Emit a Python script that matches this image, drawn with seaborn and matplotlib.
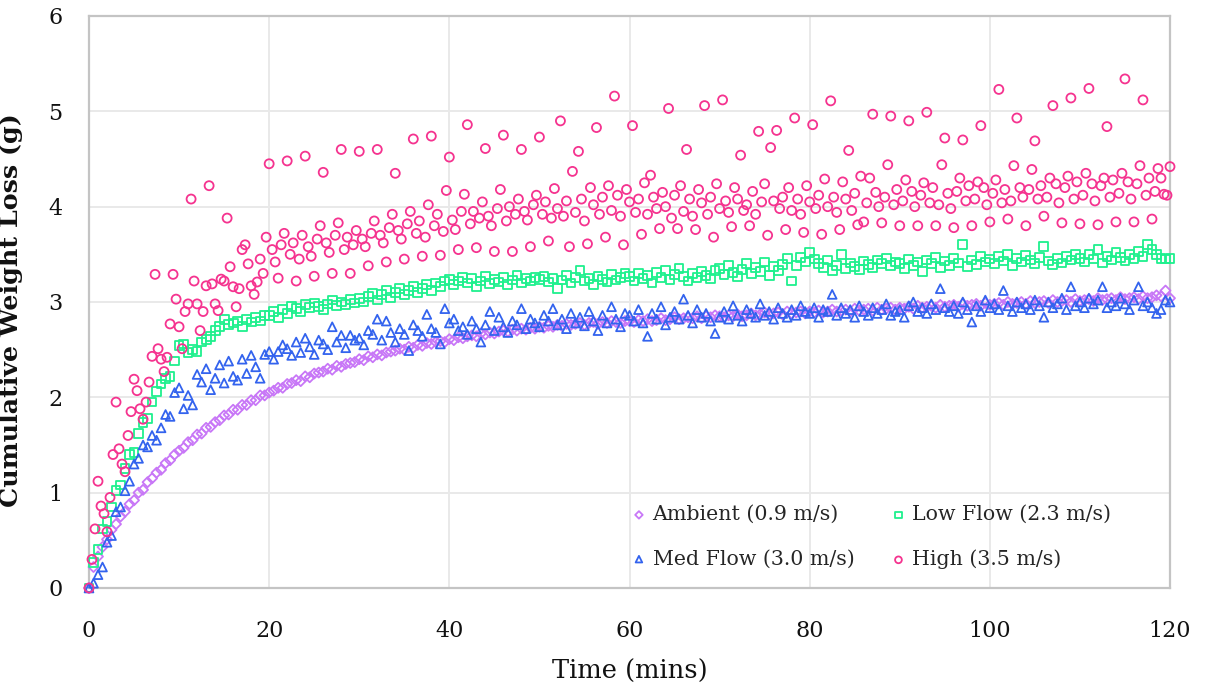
import numpy as np
import pandas as pd
import matplotlib
matplotlib.use("Agg")
import matplotlib.pyplot as plt
import seaborn as sns

# ---------------- data ----------------
series_names = ["Ambient (0.9 m/s)", "Low Flow (2.3 m/s)", "Med Flow (3.0 m/s)", "High (3.5 m/s)"]
x_min, x_max = 0, 120          # minutes (samples are evenly spaced over this span)
x_ticks = [0, 20, 40, 60, 80, 100, 120]
y_ticks = [0, 1, 2, 3, 4, 5, 6]

# Ambient: one reading every 0.5 min
ambient = [
    0.00,0.22,0.33,0.43,0.51,0.61,0.67,0.75,0.80,0.88,0.92,1.00,1.03,1.11,1.15,1.21,1.24,1.31,1.34,1.40,
    1.44,1.47,1.53,1.55,1.61,1.62,1.68,1.69,1.74,1.76,1.81,1.82,1.87,1.87,1.92,1.92,1.97,1.97,2.02,2.02,
    2.05,2.07,2.10,2.10,2.14,2.15,2.18,2.17,2.22,2.21,2.25,2.26,2.27,2.30,2.29,2.33,2.32,2.35,2.36,2.37,
    2.40,2.39,2.43,2.42,2.45,2.44,2.47,2.48,2.49,2.51,2.50,2.53,2.52,2.55,2.54,2.57,2.56,2.58,2.59,2.58,
    2.61,2.60,2.63,2.62,2.64,2.65,2.64,2.67,2.66,2.68,2.67,2.69,2.70,2.69,2.71,2.70,2.72,2.71,2.73,2.72,
    2.74,2.73,2.75,2.74,2.76,2.75,2.77,2.76,2.77,2.78,2.76,2.78,2.79,2.77,2.79,2.78,2.80,2.79,2.78,2.80,
    2.80,2.79,2.81,2.80,2.82,2.80,2.81,2.83,2.81,2.82,2.84,2.82,2.83,2.84,2.83,2.85,2.83,2.85,2.84,2.86,
    2.85,2.84,2.86,2.85,2.87,2.85,2.86,2.88,2.86,2.87,2.89,2.87,2.88,2.89,2.87,2.90,2.88,2.89,2.90,2.88,
    2.90,2.89,2.91,2.89,2.90,2.92,2.90,2.91,2.92,2.90,2.93,2.91,2.92,2.93,2.91,2.94,2.92,2.93,2.94,2.92,
    2.94,2.93,2.95,2.93,2.96,2.94,2.95,2.96,2.94,2.97,2.95,2.96,2.97,2.95,2.98,2.96,2.97,2.98,2.96,2.99,
    2.97,2.98,2.99,2.97,3.00,2.98,2.99,3.00,2.98,3.01,2.99,3.00,3.01,2.99,3.02,3.00,3.01,3.02,3.00,3.03,
    3.01,3.02,3.03,3.01,3.04,3.02,3.03,3.04,3.02,3.05,3.03,3.04,3.05,3.03,3.06,3.04,3.05,3.07,3.06,3.12,
    3.04,
]

# Low Flow: one reading every 0.5 min
low_flow = [
    0.00,0.27,0.40,0.62,0.70,0.85,1.02,1.08,1.25,1.40,1.42,1.62,1.74,1.78,1.95,2.06,2.14,2.20,2.22,2.38,
    2.54,2.56,2.47,2.50,2.48,2.58,2.61,2.64,2.70,2.74,2.82,2.76,2.78,2.80,2.74,2.82,2.79,2.84,2.80,2.86,
    2.86,2.90,2.84,2.92,2.88,2.95,2.93,2.90,2.97,2.94,2.99,2.95,2.92,2.98,3.02,2.96,3.00,2.97,3.03,2.99,
    3.04,3.00,3.06,3.09,3.02,3.08,3.12,3.05,3.10,3.14,3.08,3.12,3.16,3.10,3.14,3.18,3.12,3.20,3.16,3.22,
    3.24,3.18,3.22,3.26,3.20,3.25,3.16,3.22,3.27,3.19,3.24,3.21,3.26,3.18,3.23,3.28,3.20,3.25,3.22,3.26,
    3.24,3.27,3.21,3.25,3.14,3.23,3.28,3.20,3.26,3.33,3.22,3.25,3.18,3.27,3.24,3.21,3.29,3.23,3.26,3.30,
    3.27,3.22,3.30,3.25,3.28,3.20,3.31,3.26,3.33,3.24,3.29,3.35,3.27,3.22,3.30,3.26,3.32,3.28,3.25,3.33,
    3.35,3.29,3.38,3.31,3.27,3.34,3.40,3.30,3.36,3.32,3.42,3.28,3.37,3.33,3.39,3.46,3.22,3.38,3.47,3.42,
    3.52,3.45,3.40,3.36,3.44,3.33,3.38,3.50,3.35,3.41,3.37,3.34,3.43,3.39,3.36,3.44,3.40,3.46,3.38,3.42,
    3.40,3.35,3.45,3.38,3.42,3.32,3.44,3.40,3.47,3.36,3.43,3.38,3.46,3.41,3.60,3.37,3.44,3.39,3.48,3.42,
    3.45,3.40,3.48,3.43,3.50,3.38,3.46,3.42,3.49,3.44,3.40,3.47,3.58,3.43,3.39,3.46,3.41,3.48,3.44,3.50,
    3.46,3.42,3.50,3.45,3.55,3.41,3.48,3.44,3.52,3.47,3.43,3.50,3.46,3.53,3.48,3.60,3.55,3.50,3.46,3.45,
    3.46,
]

# Med Flow: one reading every 0.5 min
med_flow = [
    0.00,0.05,0.14,0.22,0.48,0.55,0.80,0.85,1.02,1.12,1.30,1.36,1.50,1.48,1.60,1.55,1.68,1.82,1.80,2.05,
    2.10,1.88,2.02,1.92,2.24,2.16,2.30,2.08,2.20,2.34,2.15,2.38,2.22,2.18,2.40,2.25,2.44,2.32,2.20,2.45,
    2.48,2.40,2.48,2.55,2.51,2.44,2.58,2.47,2.62,2.53,2.45,2.60,2.56,2.50,2.74,2.58,2.65,2.52,2.65,2.60,
    2.62,2.55,2.70,2.66,2.82,2.60,2.80,2.68,2.58,2.72,2.66,2.49,2.76,2.70,2.64,2.87,2.72,2.68,2.56,2.93,
    2.78,2.82,2.70,2.74,2.66,2.80,2.72,2.58,2.76,2.90,2.70,2.84,2.74,2.68,2.80,2.76,2.93,2.72,2.82,2.78,
    2.74,2.86,2.80,2.93,2.76,2.82,2.72,2.88,2.78,2.84,2.75,2.90,2.80,2.70,2.86,2.78,2.95,2.82,2.74,2.88,
    2.86,2.80,2.92,2.78,2.64,2.88,2.82,2.95,2.76,2.84,2.90,2.82,3.03,2.86,2.78,2.92,2.84,2.88,2.80,2.67,
    2.84,2.90,2.82,2.96,2.86,2.80,2.92,2.88,2.84,2.98,2.86,2.90,2.82,2.94,2.88,2.84,2.92,2.86,2.96,2.90,
    2.88,2.94,2.84,2.92,2.90,3.08,2.86,2.94,2.88,2.92,2.84,2.96,2.90,2.86,2.94,2.88,2.92,2.98,2.86,2.90,
    2.92,2.84,2.96,3.00,2.90,2.94,2.88,2.98,2.92,3.14,2.94,2.90,2.96,2.88,3.00,2.92,2.79,2.96,2.90,3.02,
    2.94,2.98,2.92,3.12,2.96,2.90,3.00,2.94,2.98,2.92,3.02,2.96,2.84,3.00,2.94,2.98,3.04,2.92,3.16,2.96,
    3.00,2.94,3.04,2.98,3.02,3.16,2.94,3.00,2.96,3.04,2.98,2.92,3.02,3.16,2.96,3.00,2.94,2.88,2.92,3.02,
    3.00,
]

# High: one reading every 20 s (1/3 min)
high = [
    0.00,0.30,0.62,1.12,0.86,0.78,0.59,0.95,1.40,1.95,1.46,1.30,1.22,1.60,1.85,2.19,2.07,1.88,1.77,1.95,
    2.16,2.43,3.29,2.51,2.40,2.27,2.42,2.77,3.29,3.03,2.74,2.51,2.90,2.98,4.08,3.22,2.98,2.70,2.90,3.17,
    4.22,3.19,2.98,2.91,3.24,3.22,3.88,3.37,3.16,2.95,3.14,3.55,3.60,3.40,3.17,3.08,3.21,3.45,3.30,3.68,
    4.45,3.55,3.42,3.25,3.60,3.72, 4.48,3.50,3.62,3.22,3.45,3.70, 4.53,3.58,3.48,3.27,3.66,3.80,
    4.36,3.62,3.52,3.30,3.70,3.83, 4.60,3.55,3.68,3.30,3.60,3.75, 4.58,3.66,3.58,3.38,3.72,3.85,
    4.60,3.70,3.62,3.42,3.78,3.92, 4.35,3.75,3.66,3.45,3.82,3.95, 4.71,3.72,3.85,3.48,3.68,4.02,
    4.74,3.80,3.92,3.49,3.74,4.17, 4.52,3.86,3.76,3.55,3.95,4.13, 4.86,3.82,3.95,3.57,3.88,4.05,
    4.61,3.90,3.80,3.53,3.98,4.18, 4.75,3.85,4.00,3.53,3.92,4.08, 4.60,3.95,3.86,3.58,4.02,4.12,
    4.73,3.92,4.05,3.64,3.88,4.19,
    3.98,4.90,3.90,4.06,3.58,4.37, 3.94,4.58,4.08,3.85,3.61,4.20, 4.02,4.83,3.92,4.10,3.68,4.22,
    3.96,5.16,4.12,3.90,3.60,4.18, 4.05,4.85,3.94,4.08,3.71,4.25, 3.92,4.33,4.10,3.98,3.77,4.15,
    4.00,5.03,3.88,4.12,3.77,4.22, 3.95,4.60,4.08,3.90,3.76,4.18, 4.04,5.06,3.92,4.10,3.68,4.24,
    3.98,5.12,4.06,3.94,3.79,4.20, 4.08,4.54,3.96,4.02,3.80,4.16, 3.92,4.79,4.05,4.24,3.70,4.62,
    4.06,4.80,3.98,4.10,3.76,4.20, 3.96,4.93,4.08,3.92,3.73,4.22, 4.05,4.86,3.98,4.12,3.71,4.29,
    4.00,5.11,4.10,3.94,3.76,4.26, 4.08,4.59,3.96,4.14,3.81,4.32,
    3.84,4.04,4.30,4.97,4.15,4.00, 3.83,4.10,4.44,4.95,4.02,4.18, 3.80,4.06,4.28,4.90,4.16,4.00,
    3.80,4.12,4.25,4.99,4.04,4.20, 3.80,4.02,4.44,4.72,4.14,3.98, 3.78,4.16,4.30,4.70,4.06,4.22,
    3.80,4.08,4.26,4.85,4.20,4.02, 3.84,4.14,4.28,5.23,4.04,4.18, 3.87,4.06,4.43,4.93,4.20,4.10,
    3.80,4.18,4.39,4.69,4.08,4.22, 3.90,4.10,4.30,5.06,4.24,4.04, 3.83,4.20,4.32,5.14,4.08,4.26,
    3.82,4.12,4.35,5.24,4.24,4.06, 3.81,4.22,4.30,4.84,4.10,4.28, 3.84,4.14,4.35,5.34,4.26,4.08,
    3.84,4.24,4.43,5.12,4.12,4.30, 3.87,4.16,4.40,4.30,4.13,4.12,
    4.42,
]

series_values = [ambient, low_flow, med_flow, high]
markers = ["D", "s", "^", "o"]
marker_sizes = [26, 40, 40, 42]
colors = ["#C877F7", "#1FF08E", "#3363EE", "#F5338F"]

# ---------------- figure ----------------
sns.set_theme(style="white")
plt.rcParams["font.family"] = ["DejaVu Serif"]

W, H = 1206, 687
fig = plt.figure(figsize=(W / 100, H / 100), dpi=100)
ax = fig.add_axes([89 / W, 1 - 588 / H, (1170 - 89) / W, (588 - 16) / H])

frames = []
for name, vals in zip(series_names, series_values):
    t = np.linspace(x_min, x_max, len(vals))
    frames.append(pd.DataFrame({"Time": t, "Loss": vals, "Series": name}))
df = pd.concat(frames, ignore_index=True)

for name, m, s, c in zip(series_names, markers, marker_sizes, colors):
    sub = df[df["Series"] == name]
    sns.scatterplot(data=sub, x="Time", y="Loss", marker=m, s=s,
                    facecolor="none", edgecolor=c, linewidth=1.3,
                    label=name, ax=ax, clip_on=False, zorder=3)

ax.set_xlim(x_min, x_max)
ax.set_ylim(0, 6)
ax.set_xticks(x_ticks)
ax.set_yticks(y_ticks)
ax.set_xticklabels([str(v) for v in x_ticks])
ax.set_yticklabels([str(v) for v in y_ticks])
ax.grid(True, color="#E9E9E9", linewidth=1.4)
ax.set_axisbelow(True)
for sp in ax.spines.values():
    sp.set_visible(True)
    sp.set_color("#C4C4C4")
    sp.set_linewidth(1.6)
ax.tick_params(axis="x", length=0, pad=23, labelsize=16, colors="#111111")
ax.tick_params(axis="y", length=0, pad=19, labelsize=16, colors="#111111")

ax.set_xlabel("Time (mins)", fontsize=18.5, color="#111111", labelpad=12)
ax.set_ylabel("Cumulative Weight Loss (g)", fontsize=18.3, fontweight="bold",
              color="#111111", labelpad=9)
ax.yaxis.set_label_coords(-(89 - 23) / (1170 - 89), (588 - 310) / (588 - 16))

handles, labels = ax.get_legend_handles_labels()
order = [0, 2, 1, 3]
leg_fs = 14.8
ax.legend([handles[i] for i in order], [labels[i] for i in order], ncol=2,
          loc="upper left", bbox_to_anchor=(622.5 / W, 1 - 495 / H),
          bbox_transform=fig.transFigure, frameon=False, borderpad=0,
          fontsize=leg_fs, markerscale=0.75, handlelength=0.6, handletextpad=0.36,
          columnspacing=1.85, labelspacing=1.23)

fig.savefig("out.png", dpi=100, facecolor="white")
